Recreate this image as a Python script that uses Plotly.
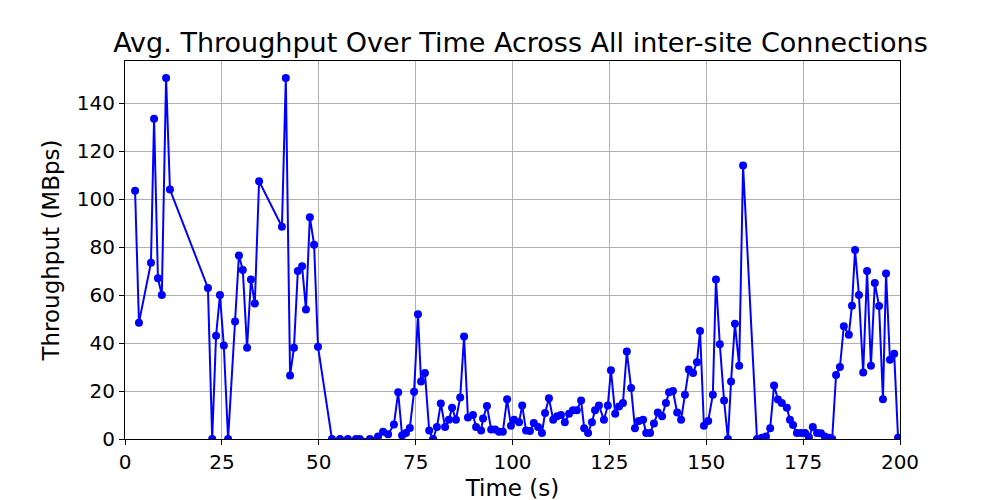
import plotly.graph_objects as go

time_s = [2.6, 3.6, 6.7, 7.5, 8.5, 9.5, 10.6, 11.6, 21.4, 22.5, 23.5, 24.5, 25.5, 26.6, 28.4, 29.4, 30.4, 31.5, 32.5, 33.5, 34.6, 40.5, 41.5, 42.6, 43.6, 44.6, 45.7, 46.7, 47.7, 48.8, 49.8,
          53.4, 55.5, 57.5, 59.6, 60.6, 63.2, 65.3, 66.6, 67.9, 69.4, 70.5, 71.5, 72.5, 73.5, 74.6, 75.6, 76.4, 77.4, 78.5, 79.5, 80.5, 81.5, 82.6, 83.6, 84.4, 85.4, 86.5, 87.5, 88.5, 89.8, 90.6, 91.9, 92.4, 93.4, 94.5, 95.5, 96.5, 97.5, 98.6, 99.6, 100.4, 101.7, 102.5, 103.5, 104.5, 105.5, 106.6, 107.6, 108.4, 109.4, 110.5, 111.5, 112.5, 113.5, 114.6, 115.6, 116.6, 117.7, 118.5, 119.5, 120.5, 121.3, 122.3, 123.6, 124.6, 125.4, 126.5, 127.5, 128.5, 129.5, 130.6, 131.6, 132.6, 133.7, 134.5, 135.5, 136.5, 137.5, 138.6, 139.6, 140.4, 141.4, 142.5, 143.5, 144.5, 145.5, 146.6, 147.6, 148.4, 149.4, 150.5, 151.7, 152.5, 153.5, 154.6, 155.6, 156.4, 157.4, 158.5, 159.5,
          163.1, 164.4, 165.4, 166.5, 167.5, 168.5, 169.5, 170.8, 171.6, 172.4, 173.4, 174.5, 175.5, 176.5, 177.5, 178.6, 179.6, 180.6, 181.7, 182.5, 183.5, 184.5, 185.5, 186.8, 187.6, 188.4, 189.4, 190.5, 191.5, 192.5, 193.5, 194.6, 195.6, 196.4, 197.4, 198.5, 199.5]
throughput = [103.5, 48.5, 73.5, 133.5, 67, 60, 150.5, 104, 63, 0, 43, 60, 39, 0, 49, 76.5, 70.5, 38, 66.5, 56.5, 107.5, 88.5, 150.5, 26.5, 38, 70, 72, 54, 92.5, 81, 38.5,
              0, 0, 0, 0, 0, 0, 1, 3, 2, 6, 19.5, 1.5, 2.5, 4.6, 19.7, 52, 24, 27.5, 3.5, 0, 5, 14.8, 5, 8, 13, 8, 17.3, 42.7, 9, 10, 5, 3.5, 8.5, 13.8, 4, 4, 3, 3, 16.6, 5.5, 8, 7, 14, 3.5, 3.3, 6.7, 5, 2.5, 10.8, 17, 8, 9.5, 10, 7, 10.5, 12, 12, 16, 4.5, 2.5, 7, 12, 14, 8, 14, 28.7, 10.5, 13.5, 15, 36.5, 21.3, 4.5, 7.5, 8, 2.5, 2.5, 6.5, 11, 9.5, 15, 19.5, 20, 11, 8, 18.5, 29, 27.5, 32, 45, 5.5, 7.5, 18.5, 66.5, 39.5, 16, 0, 24, 48, 30.5, 114,
              0, 0.5, 1, 4.5, 22.3, 16.5, 15, 13, 8, 5.8, 2.5, 2.5, 2.5, 0.7, 5, 2.5, 2.4, 1, 0.5, 0, 26.7, 30, 47, 43.5, 55.6, 78.8, 60, 27.7, 70, 30.5, 65, 55.4, 16.6, 69, 33, 35.5, 0.5]

fig = go.Figure(go.Scatter(x=time_s, y=throughput, mode="lines+markers",
                           line=dict(color="#0000ff", width=2),
                           marker=dict(color="#0000ff", size=8)))
axis_common = dict(showline=True, linecolor="black", linewidth=1, mirror=True,
                   ticks="outside", ticklen=5, tickcolor="black",
                   showgrid=True, gridcolor="#b0b0b0", gridwidth=1, zeroline=False,
                   tickfont=dict(size=20, color="black"))
fig.update_layout(
    width=1000, height=500, plot_bgcolor="white", paper_bgcolor="white",
    font=dict(family="DejaVu Sans", color="black"),
    margin=dict(l=117, r=108, t=53, b=52),
    title=dict(text="Avg. Throughput Over Time Across All inter-site Connections",
               x=0.5125, xanchor="center", y=0.93, yanchor="middle", font=dict(size=27)),
    showlegend=False,
    xaxis=dict(range=[0, 200], tickvals=[0, 25, 50, 75, 100, 125, 150, 175, 200],
               title=dict(text="Time (s)", font=dict(size=23), standoff=6), **axis_common),
    yaxis=dict(range=[0, 157.6], tickvals=[0, 20, 40, 60, 80, 100, 120, 140],
               title=dict(text="Throughput (MBps)", font=dict(size=23), standoff=10), **axis_common),
)
fig.write_html("out.html")
